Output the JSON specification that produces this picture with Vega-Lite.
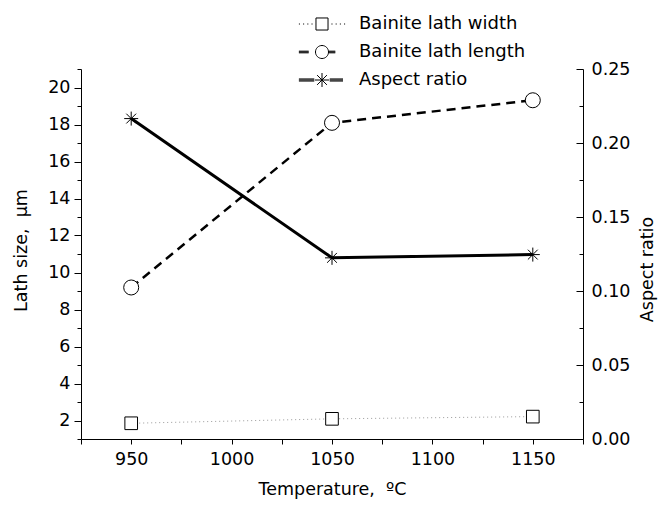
{
  "$schema": "https://vega.github.io/schema/vega-lite/v6.json",
  "width": 502,
  "height": 370,
  "autosize": {"type": "none"},
  "padding": {"left": 81, "top": 69, "right": 77, "bottom": 70},
  "background": "white",
  "config": {
    "view": {"stroke": null},
    "font": "DejaVu Sans",
    "axis": {
      "domainColor": "black", "tickColor": "black", "labelColor": "black", "titleColor": "black",
      "labelFont": "DejaVu Sans", "titleFont": "DejaVu Sans",
      "labelFontSize": 17.5, "titleFontSize": 17.5, "titleFontWeight": "normal",
      "grid": false, "domainWidth": 1, "tickWidth": 1
    },
    "legend": {"labelFont": "DejaVu Sans"}
  },
  "data": {
    "values": [
      {"temp": 950, "series": "Bainite lath width", "value": 1.85},
      {"temp": 1050, "series": "Bainite lath width", "value": 2.09},
      {"temp": 1150, "series": "Bainite lath width", "value": 2.21},
      {"temp": 950, "series": "Bainite lath length", "value": 9.19},
      {"temp": 1050, "series": "Bainite lath length", "value": 18.09},
      {"temp": 1150, "series": "Bainite lath length", "value": 19.31},
      {"temp": 950, "series": "Aspect ratio", "value": 0.2165},
      {"temp": 1050, "series": "Aspect ratio", "value": 0.1224},
      {"temp": 1150, "series": "Aspect ratio", "value": 0.1246}
    ]
  },
  "encoding": {
    "x": {
      "field": "temp", "type": "quantitative",
      "scale": {"domain": [925, 1175], "nice": false, "zero": false},
      "axis": {
        "values": [925, 950, 975, 1000, 1025, 1050, 1075, 1100, 1125, 1150, 1175],
        "format": "d",
        "labelExpr": "datum.value % 50 === 0 ? datum.label : ''",
        "tickSize": 5, "labelPadding": 6,
        "title": "Temperature,\u00a0\u00a0ºC", "titlePadding": 13
      }
    }
  },
  "layer": [
    {
      "transform": [{"filter": "datum.series !== 'Aspect ratio'"}],
      "layer": [
        {
          "transform": [{"filter": "datum.series === 'Bainite lath width'"}],
          "mark": {"type": "line", "color": "#9a9a9a", "strokeWidth": 1, "strokeDash": [1, 3]},
          "encoding": {
            "y": {
              "field": "value", "type": "quantitative",
              "scale": {"domain": [1, 21], "nice": false, "zero": false},
              "axis": {
                "orient": "left", "values": [2, 4, 6, 8, 10, 12, 14, 16, 18, 20], "format": "d",
                "tickSize": 7, "labelPadding": 4,
                "title": "Lath size,\u00a0\u00a0μm", "titlePadding": 17, "titleY": 181
              }
            }
          }
        },
        {
          "transform": [{"filter": "datum.series === 'Bainite lath length'"}],
          "mark": {"type": "line", "color": "black", "strokeWidth": 2.5, "strokeDash": [9, 6]},
          "encoding": {
            "y": {
              "field": "value", "type": "quantitative",
              "axis": {
                "orient": "left", "values": [1, 3, 5, 7, 9, 11, 13, 15, 17, 19, 21],
                "tickSize": 4, "labels": false, "domain": false, "title": null
              }
            }
          }
        },
        {
          "transform": [{"filter": "datum.series === 'Bainite lath width'"}],
          "mark": {"type": "point", "shape": "square", "size": 160, "filled": true, "fill": "white", "stroke": "black", "strokeWidth": 1, "opacity": 1},
          "encoding": {"y": {"field": "value", "type": "quantitative", "axis": null}}
        },
        {
          "transform": [{"filter": "datum.series === 'Bainite lath length'"}],
          "mark": {"type": "point", "shape": "circle", "size": 225, "filled": true, "fill": "white", "stroke": "black", "strokeWidth": 1, "opacity": 1},
          "encoding": {"y": {"field": "value", "type": "quantitative", "axis": null}}
        },
        {
          "mark": {"type": "point", "color": "black", "opacity": 0, "clip": true},
          "encoding": {
            "y": {"field": "value", "type": "quantitative", "axis": null},
            "shape": {
              "field": "series", "type": "nominal",
              "scale": {
                "domain": ["Bainite lath width", "Bainite lath length", "Aspect ratio"],
                "range": [
                  "M-3.3,0h0.15M-2.7,0h0.15M-2.1,0h0.15M-1.5,0h0.15M1.35,0h0.15M1.95,0h0.15M2.55,0h0.15M3.15,0h0.15M-0.86,-0.86H0.86V0.86H-0.86Z",
                  "M-3.3,-0.12H-1.9M-3.3,0H-1.9M-3.3,0.12H-1.9M0.93,0A0.93,0.93,0,1,1,-0.93,0A0.93,0.93,0,1,1,0.93,0ZM0.93,-0.12H1.9M0.93,0H1.9M0.93,0.12H1.9",
                  "M-3.3,-0.15H-1.1M-3.3,0H-1.1M-3.3,0.15H-1.1M-1,0H1M0,-1V1M-0.7,-0.7L0.7,0.7M-0.7,0.7L0.7,-0.7M1.1,-0.15H3.0M1.1,0H3.0M1.1,0.15H3.0"
                ]
              },
              "legend": {
                "orient": "none", "legendX": 232, "legendY": -54, "title": null,
                "labelFontSize": 18, "labelColor": "black", "labelOffset": 28, "labelLimit": 400,
                "symbolSize": 196, "symbolStrokeColor": "black", "symbolFillColor": "transparent",
                "symbolStrokeWidth": 1, "symbolOpacity": 1, "rowPadding": 10, "padding": 0
              }
            }
          }
        }
      ],
      "resolve": {"axis": {"y": "independent"}}
    },
    {
      "transform": [{"filter": "datum.series === 'Aspect ratio'"}],
      "layer": [
        {
          "mark": {"type": "line", "color": "black", "strokeWidth": 3},
          "encoding": {
            "y": {
              "field": "value", "type": "quantitative",
              "scale": {"domain": [0, 0.25], "nice": false, "zero": false},
              "axis": {
                "orient": "right", "values": [0, 0.05, 0.1, 0.15, 0.2, 0.25], "format": ".2f",
                "tickSize": -7, "labelPadding": 15,
                "title": "Aspect ratio", "titleAngle": 270, "titleBaseline": "top", "titlePadding": 9, "titleY": 200
              }
            }
          }
        },
        {
          "mark": {"type": "point", "shape": "M-1,0H1M0,-1V1M-0.7,-0.7L0.7,0.7M-0.7,0.7L0.7,-0.7", "size": 196, "filled": false, "stroke": "black", "strokeWidth": 1, "opacity": 1},
          "encoding": {
            "y": {
              "field": "value", "type": "quantitative",
              "axis": {
                "orient": "right", "values": [0.025, 0.075, 0.125, 0.175, 0.225],
                "tickSize": -4, "labels": false, "domain": false, "title": null
              }
            }
          }
        }
      ],
      "resolve": {"axis": {"y": "independent"}}
    }
  ],
  "resolve": {"scale": {"y": "independent"}}
}
